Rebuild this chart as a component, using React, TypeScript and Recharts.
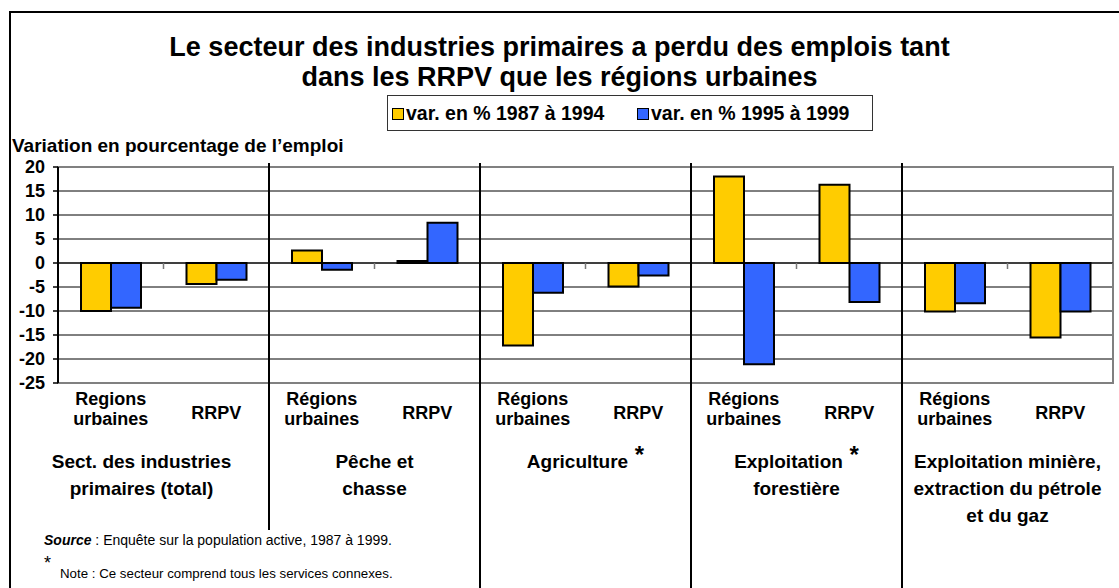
import React from "react";
import {
  BarChart,
  Bar,
  XAxis,
  YAxis,
  CartesianGrid,
  ReferenceArea,
  ReferenceLine,
  Legend,
} from "recharts";

const FONT = '"Liberation Sans", Arial, sans-serif';

// data
const zones = [
  "Regions urbaines", "RRPV",
  "Régions urbaines", "RRPV",
  "Régions urbaines", "RRPV",
  "Régions urbaines", "RRPV",
  "Régions urbaines", "RRPV",
];
const sectorLines = [
  ["Sect. des industries", "primaires (total)"],
  ["Pêche et", "chasse"],
  ["Agriculture"],
  ["Exploitation", "forestière"],
  ["Exploitation minière,", "extraction du pétrole", "et du gaz"],
];
const sectorStar = [false, false, true, true, false];
const var8794 = [-10.0, -4.4, 2.6, 0.4, -17.2, -4.9, 18.0, 16.3, -10.1, -15.5];
const var9599 = [-9.3, -3.5, -1.4, 8.4, -6.2, -2.6, -21.1, -8.1, -8.4, -10.1];
const yTicks = [20, 15, 10, 5, 0, -5, -10, -15, -20, -25];
const seriesNames = ["var. en % 1987 à 1994", "var. en % 1995 à 1999"];
const colors = ["#FFCC00", "#3366FF"];

const data = zones.map((z, i) => ({ id: String(i), zone: z, a: var8794[i], b: var9599[i] }));

const labelShift = [-22, 0, 0, 0, 0];

const XTick = (props: any) => {
  const { x, y, payload } = props;
  const i = payload.index ?? Number(payload.value);
  const band = payload.offset ? payload.offset * 2 : 105.5;
  const words = zones[i].split(" ");
  const els: any[] = [];
  if (words.length === 2) {
    els.push(
      <text key="l1" x={x} y={y + 22} textAnchor="middle" fontSize={18} fontWeight="bold" fill="#000" fontFamily={FONT}>{words[0]}</text>,
      <text key="l2" x={x} y={y + 42} textAnchor="middle" fontSize={18} fontWeight="bold" fill="#000" fontFamily={FONT}>{words[1]}</text>
    );
  } else {
    els.push(
      <text key="l1" x={x} y={y + 36} textAnchor="middle" fontSize={18} fontWeight="bold" fill="#000" fontFamily={FONT}>{words[0]}</text>
    );
  }
  if (i % 2 === 1 && i < zones.length - 1) {
    const sx = x + band / 2;
    els.push(
      <line key="sep" x1={sx} x2={sx} y1={163} y2={i === 1 ? 530 : 590} stroke="#000" strokeWidth={2} />
    );
  }
  if (i % 2 === 0) {
    const g = i / 2;
    const cx = x + band / 2 + labelShift[g];
    sectorLines[g].forEach((ln, k) => {
      els.push(
        <text key={"g" + k} x={cx} y={y + 85 + k * 27} textAnchor="middle" fontSize={19} fontWeight="bold" fill="#000" fontFamily={FONT}>
          {ln}
          {sectorStar[g] && k === 0 ? (
            <tspan fontSize={24} dy={-5}>{ln === "Exploitation" ? "  *" : " *"}</tspan>
          ) : null}
        </text>
      );
    });
  }
  return <g>{els}</g>;
};

const ZeroLine = (props: any) => {
  const { x1, x2, y1 } = props;
  const n = zones.length;
  const step = (x2 - x1) / n;
  const marks = [];
  for (let k = 1; k <= n; k++) {
    marks.push(<line key={k} x1={x1 + k * step} x2={x1 + k * step} y1={y1} y2={y1 + 6} stroke="#777" strokeWidth={1.5} />);
  }
  return (
    <g>
      <line x1={x1} x2={x2} y1={y1} y2={y1} stroke="#000" strokeWidth={1} />
      {marks}
    </g>
  );
};

const LegendBox = () => (
  <div style={{ position: "relative", width: 486, height: 36, border: "1px solid #333", boxSizing: "border-box", background: "#fff", fontFamily: FONT }}>
    {seriesNames.map((n, i) => (
      <div key={n} style={{ position: "absolute", left: i === 0 ? 4 : 249, top: 6, display: "flex", alignItems: "center", whiteSpace: "nowrap" }}>
        <span style={{ display: "inline-block", width: 10, height: 10, background: colors[i], border: "1.5px solid #000", marginRight: 2 }} />
        <span style={{ fontSize: 19.5, fontWeight: "bold", color: "#000" }}>{n}</span>
      </div>
    ))}
  </div>
);

export default function App() {
  return (
    <div style={{ position: "absolute", left: 0, top: 0, width: 1119, height: 588, overflow: "hidden", background: "#fff", fontFamily: FONT }}>
      <div style={{ position: "absolute", left: 9, top: 11, width: 1200, height: 700, border: "2px solid #000" }} />
      <div style={{ position: "absolute", left: 0, top: 32, width: 1119, textAlign: "center", fontSize: 27, fontWeight: "bold", lineHeight: "30px", color: "#000" }}>
        Le secteur des industries primaires a perdu des emplois tant
        <br />
        dans les RRPV que les régions urbaines
      </div>
      <div style={{ position: "absolute", left: 12, top: 135, fontSize: 19, fontWeight: "bold", color: "#000", whiteSpace: "nowrap" }}>
        Variation en pourcentage de l’emploi
      </div>
      <BarChart
        width={1119}
        height={588}
        data={data}
        margin={{ top: 167, right: 6, bottom: 145, left: 0 }}
        barGap={0}
        barSize={30}
        style={{ position: "absolute", left: 0, top: 0 }}
      >
        <CartesianGrid vertical={false} stroke="#000" strokeWidth={1} />
        <XAxis dataKey="id" axisLine={false} tickLine={false} tickSize={0} tickMargin={0} height={60} interval={0} tick={<XTick />} />
        <YAxis
          domain={[-25, 20]}
          ticks={yTicks}
          width={58}
          interval={0}
          axisLine={{ stroke: "#000", strokeWidth: 2 }}
          tickLine={{ stroke: "#000", strokeWidth: 1.5 }}
          tickSize={5}
          tickMargin={8}
          tick={{ fontSize: 18, fontWeight: "bold", fill: "#000", fontFamily: FONT }}
        />
        <ReferenceArea y1={-25} y2={20} fill="none" stroke="#808080" strokeWidth={2} />
        <Legend layout="horizontal" verticalAlign="middle" align="center" wrapperStyle={{ top: 95, left: 387, width: 486, height: 36 }} content={() => <LegendBox />} />
        <Bar dataKey="a" name={seriesNames[0]} fill={colors[0]} stroke="#000" strokeWidth={2} isAnimationActive={false} />
        <Bar dataKey="b" name={seriesNames[1]} fill={colors[1]} stroke="#000" strokeWidth={2} isAnimationActive={false} />
        <ReferenceLine y={0} shape={<ZeroLine />} />
      </BarChart>
      <div style={{ position: "absolute", left: 44, top: 532, fontSize: 14, color: "#000", whiteSpace: "nowrap" }}>
        <b><i>Source</i></b> : Enquête sur la population active, 1987 à 1999.
      </div>
      <div style={{ position: "absolute", left: 44, top: 553, fontSize: 18, color: "#000" }}>*</div>
      <div style={{ position: "absolute", left: 60, top: 566, fontSize: 13.3, color: "#000", whiteSpace: "nowrap" }}>
        Note : Ce secteur comprend tous les services connexes.
      </div>
    </div>
  );
}
